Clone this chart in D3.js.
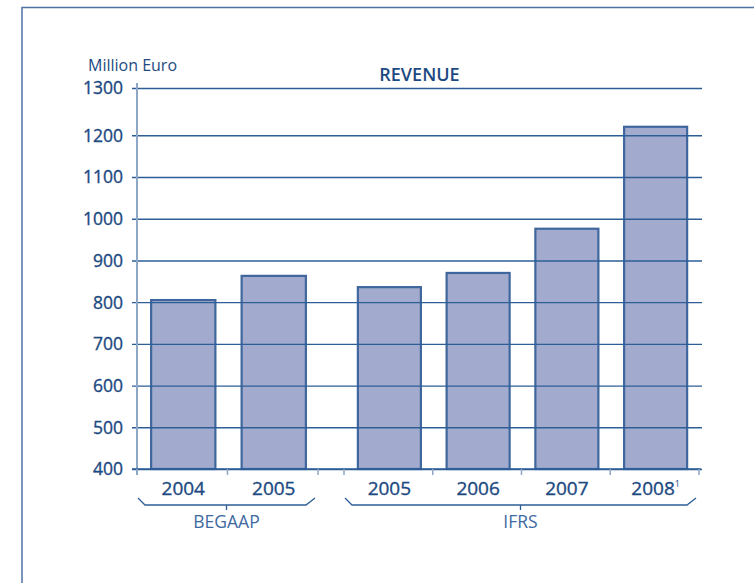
<!DOCTYPE html>
<html>
<head>
<meta charset="utf-8">
<script src="https://cdn.jsdelivr.net/npm/d3@7"></script>
<style>
  html, body { margin: 0; padding: 0; background: #fff; }
  svg { display: block; }
  text { font-family: "Open Sans", "Noto Sans", sans-serif; }
</style>
</head>
<body>
<svg id="chart" width="754" height="583"></svg>
<script>
// Revenue per year, split by accounting standard
const standards = ["BEGAAP", "IFRS"];
const years     = ["2004", "2005", "2005", "2006", "2007", "2008"];
const standard  = ["BEGAAP", "BEGAAP", "IFRS", "IFRS", "IFRS", "IFRS"];
const revenue   = [805, 863, 836, 870, 976, 1218];
const footnotes = ["", "", "", "", "", "1"];
const yTicks    = [400, 500, 600, 700, 800, 900, 1000, 1100, 1200, 1300];

const title = "REVENUE";
const unit  = "Million Euro";

const C = {
  text: "#1d4a82",
  textLight: "#3d69a1",
  grid: "#2d5e97",
  axis: "#8ea7c7",
  barFill: "#a2abcd",
  barStroke: "#3f679d",
  frame: "#4f73a3"
};

const svg = d3.select("#chart");
const plot = { left: 137, gridEnd: 702, top: 88, bottom: 469 };
// horizontal extent of each group of bars
const groupExtent = { BEGAAP: [137, 318], IFRS: [344, 699] };

// frame
svg.append("path")
  .attr("d", `M22,583 V7.5 H754`)
  .attr("fill", "none").attr("stroke", C.frame).attr("stroke-width", 1.5);

// y scale: the top gridline sits slightly further apart than the others
const y = d3.scaleLinear()
  .domain([400, 1200, 1300])
  .range([plot.bottom, 135.3, plot.top]);

// x: one band scale per accounting standard
const rows = years.map((yr, i) => ({ year: yr, std: standard[i], value: revenue[i], note: footnotes[i] }));
const xs = {};
standards.forEach(s => {
  const ys = rows.filter(r => r.std === s).map(r => r.year);
  xs[s] = d3.scaleBand().domain(ys).range(groupExtent[s]).padding(0);
});

// gridlines + y labels
const gAxis = svg.append("g").attr("transform", `translate(${plot.left},0)`)
  .call(d3.axisLeft(y).tickValues(yTicks).tickFormat(d3.format("d"))
    .tickSize(-(plot.gridEnd - plot.left)).tickSizeOuter(0));
gAxis.select(".domain").remove();
gAxis.selectAll(".tick line")
  .attr("x1", -5)
  .attr("stroke", C.grid).attr("stroke-width", 1.4);
gAxis.selectAll(".tick text")
  .attr("fill", C.text)
  .attr("stroke", C.text).attr("stroke-width", 0.35)
  .attr("font-size", 17.5)
  .attr("dy", "0.34em")
  .attr("x", -14);

// bars
const bars = svg.append("g");
rows.forEach(r => {
  const band = xs[r.std];
  const w = band.bandwidth() * 0.71;
  bars.append("rect")
    .attr("x", band(r.year) + (band.bandwidth() - w) / 2 + 1)
    .attr("y", y(r.value))
    .attr("width", w)
    .attr("height", y(400) - y(r.value))
    .attr("fill", C.barFill)
    .attr("stroke", C.barStroke)
    .attr("stroke-width", 2.2);
});

// gridlines visible through the bars
gAxis.raise();

// vertical axis line
svg.append("line")
  .attr("x1", plot.left).attr("x2", plot.left)
  .attr("y1", plot.top - 5).attr("y2", plot.bottom + 6)
  .attr("stroke", C.axis).attr("stroke-width", 2);

// baseline
svg.append("line")
  .attr("x1", plot.left - 5).attr("x2", plot.gridEnd - 1)
  .attr("y1", y(400)).attr("y2", y(400))
  .attr("stroke", C.grid).attr("stroke-width", 1.5);

// slot boundary ticks and year labels
standards.forEach(s => {
  const band = xs[s];
  const bounds = band.domain().map(d => band(d)).concat([band.range()[1]]);
  bounds.forEach(bx => {
    svg.append("line")
      .attr("x1", bx).attr("x2", bx)
      .attr("y1", plot.bottom).attr("y2", plot.bottom + 6)
      .attr("stroke", C.axis).attr("stroke-width", 1.5);
  });
});
rows.forEach(r => {
  const band = xs[r.std];
  const t = svg.append("text")
    .attr("x", band(r.year) + band.bandwidth() / 2 + 1)
    .attr("y", 495)
    .attr("text-anchor", "middle")
    .attr("fill", C.text)
    .attr("stroke", C.text).attr("stroke-width", 0.35)
    .attr("font-size", 19)
    .text(r.year);
  if (r.note) {
    t.append("tspan").attr("font-size", 9).attr("stroke-width", 0).attr("dy", -8).text(r.note);
  }
});

// group brackets with labels
standards.forEach(s => {
  const [a, b] = xs[s].range();
  const l = a + 1, r = b - 3;
  const mid = (l + r) / 2;
  svg.append("path")
    .attr("d", `M${l},498 L${l + 7},505 H${r - 9} L${r},498 M${mid},505 V510`)
    .attr("fill", "none").attr("stroke", C.grid).attr("stroke-width", 1.3);
  svg.append("text")
    .attr("x", mid).attr("y", 528)
    .attr("text-anchor", "middle")
    .attr("fill", C.textLight)
    .attr("font-size", 17.5)
    .text(s);
});

// title and unit
svg.append("text")
  .attr("x", (plot.left + plot.gridEnd) / 2).attr("y", 81)
  .attr("text-anchor", "middle")
  .attr("fill", C.text)
  .attr("font-size", 18)
  .attr("font-weight", 600)
  .text(title);
svg.append("text")
  .attr("x", 88).attr("y", 71)
  .attr("fill", C.text)
  .attr("font-size", 16)
  .text(unit);
</script>
</body>
</html>
